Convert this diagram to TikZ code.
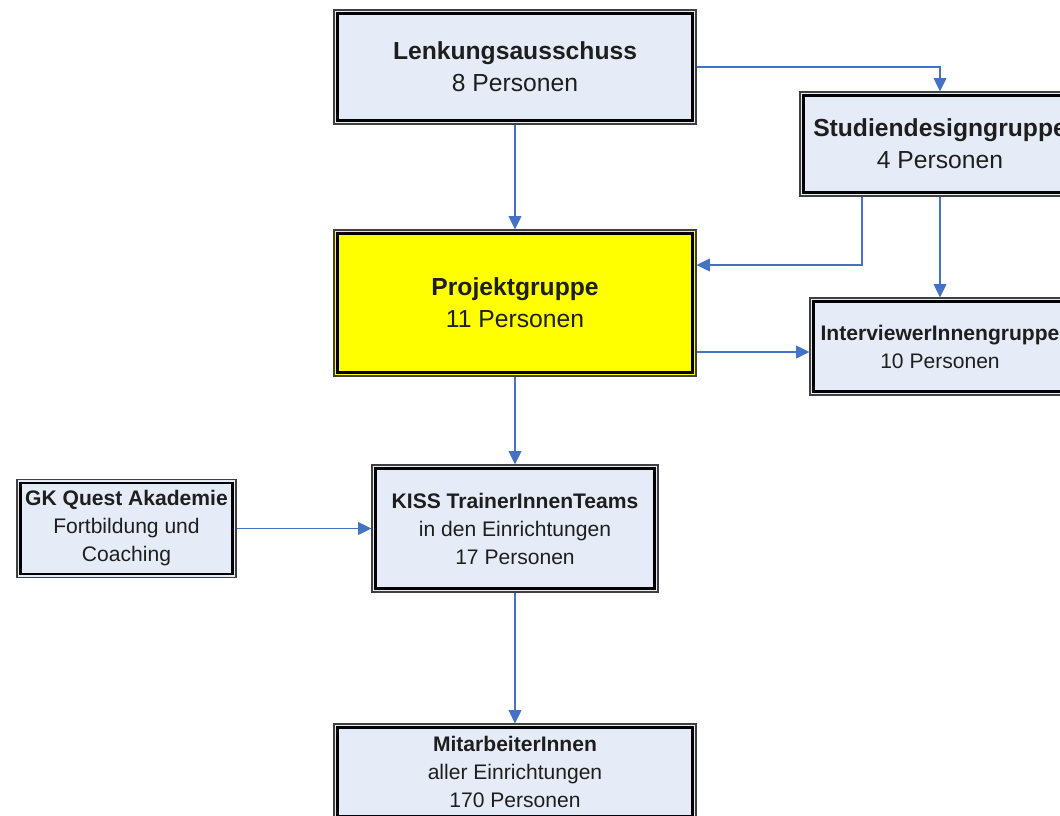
\documentclass[tikz,border=0pt]{standalone}
\usepackage{fontspec}
\setmainfont{Liberation Sans}
\usetikzlibrary{arrows.meta,calc}
\definecolor{boxfill}{RGB}{230,236,247}
\definecolor{arrowblue}{RGB}{68,114,196}
\definecolor{projyellow}{RGB}{255,255,0}
\definecolor{txt}{RGB}{30,30,30}
\tikzset{
  orgbox/.style={draw=black!75, line width=0.8pt, fill=boxfill, rectangle, inner sep=0pt,
    align=center, text=txt,
    path picture={\draw[black, line width=1.6pt]
      ([xshift=2.6pt,yshift=-2.6pt]path picture bounding box.north west) rectangle
      ([xshift=-2.6pt,yshift=2.6pt]path picture bounding box.south east);}},
  bigtext/.style={font=\fontsize{18.5}{24}\selectfont},
  smalltext/.style={font=\fontsize{15.8}{21}\selectfont},
  conn/.style={draw=arrowblue, line width=1.1pt, -{Triangle[length=10pt,width=9.5pt]}},
  line/.style={draw=arrowblue, line width=1.1pt}
}
\begin{document}
\begin{tikzpicture}[x=0.75pt,y=-0.75pt]
\useasboundingbox (0,0) rectangle (1060,815);
\clip (0,0) rectangle (1060,815);
\fill[white] (0,0) rectangle (1060,815);
% nodes
\node[orgbox,bigtext,minimum width=271.5pt,minimum height=85.5pt] (L) at (515,67)
  {\textbf{Lenkungsausschuss}\\8 Personen};
\node[orgbox,bigtext,minimum width=210pt,minimum height=78pt] (S) at (940,144)
  {\textbf{Studiendesigngruppe}\\4 Personen};
\node[orgbox,bigtext,fill=projyellow,minimum width=271.5pt,minimum height=109.5pt] (P) at (515,303)
  {\textbf{Projektgruppe}\\11 Personen};
\node[orgbox,smalltext,minimum width=195pt,minimum height=72.75pt] (I) at (940,346.5)
  {\textbf{InterviewerInnengruppe}\\10 Personen};
\node[orgbox,smalltext,minimum width=214.5pt,minimum height=95.25pt] (K) at (515,528.5)
  {\textbf{KISS TrainerInnenTeams}\\in den Einrichtungen\\17 Personen};
\node[orgbox,smalltext,minimum width=164.25pt,minimum height=73.5pt] (G) at (126.5,528.5)
  {\textbf{GK Quest Akademie}\\Fortbildung und\\Coaching};
\node[orgbox,smalltext,minimum width=271.5pt,minimum height=72pt] (M) at (515,772)
  {\textbf{MitarbeiterInnen}\\aller Einrichtungen\\170 Personen};
% connectors
\draw[conn] (L.east) -| (S.north);
\draw[conn] (L.south) -- (P.north);
\coordinate (s1) at ($(S.south)+(-78,0)$);
\coordinate (p1) at ($(P.east)+(0,-38)$);
\draw[conn] (s1) |- (p1);
\draw[conn] (S.south) -- (I.north);
\coordinate (p2) at ($(P.east)+(0,49)$);
\draw[conn] (p2) -- (p2 -| I.west);
\draw[conn] (P.south) -- (K.north);
\draw[conn] (G.east) -- (K.west);
\draw[conn] (K.south) -- (M.north);
\end{tikzpicture}
\end{document}
